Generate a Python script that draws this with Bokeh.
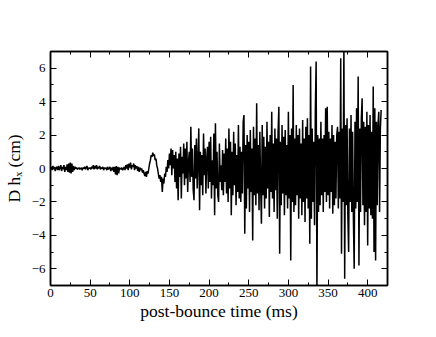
from bokeh.plotting import figure
from bokeh.models import LinearAxis, SingleIntervalTicker, Range1d, CustomJSTickFormatter
from bokeh.embed import file_html
from bokeh.resources import INLINE

h = [
    0.0, 0.1, -0.1, 0.15, -0.05, 0.1, -0.15, 0.05, 0.1, -0.1,
    0.15, -0.1, 0.05, 0.2, -0.15, 0.1, -0.05, 0.2, -0.2, 0.1,
    -0.1, 0.25, -0.2, 0.3, -0.25, 0.35, -0.3, 0.3, -0.2, 0.15,
    -0.1, 0.1, 0.0, 0.05, -0.05, 0.0, 0.05, -0.05, 0.0, 0.05,
    -0.1, 0.05, 0.0, 0.1, -0.05, 0.05, 0.15, -0.1, 0.05, 0.0,
    0.05, -0.05, 0.1, 0.0, 0.2, -0.05, 0.15, 0.0, 0.2, -0.05,
    0.1, 0.0, 0.15, -0.05, 0.05, 0.0, 0.1, -0.1, 0.05, 0.0,
    0.05, -0.1, 0.1, -0.05, 0.0, 0.1, -0.15, 0.05, -0.1, 0.1,
    -0.2, 0.1, -0.35, 0.15, -0.4, 0.1, -0.3, 0.05, 0.0, -0.05,
    0.05, -0.1, 0.0, 0.1, -0.1, 0.2, 0.0, 0.25, -0.1, 0.3,
    0.05, 0.35, -0.05, 0.2, 0.1, 0.3, -0.1, 0.2, 0.0, 0.15,
    -0.15, 0.1, -0.2, 0.05, -0.1, 0.0, -0.25, -0.1, -0.3, -0.45,
    -0.2, -0.5, -0.15, -0.3, 0.0, 0.3, 0.5, 0.8, 0.7, 0.95,
    0.75, 0.85, 0.5, 0.6, 0.2, 0.0, -0.3, -0.6, -0.4, -0.8,
    -0.5, -1.4, -0.6, -0.9, -0.3, -0.5, 0.1, -0.2, 0.5, 0.0,
    0.9, 0.2, 1.2, -0.4, 1.1, 0.0, 0.8, -0.8, 1.0, -1.2,
    0.6, -1.9, 0.9, -0.5, 1.3, -1.8, 0.7, -0.3, 1.5, -1.0,
    1.2, -0.6, 1.6, -1.4, 0.4, 1.0, -0.8, 2.5, -0.5, 1.2,
    -1.3, -1.9, 1.4, -0.6, 1.8, -1.2, 0.5, 2.4, -2.5, 1.0,
    -1.0, 0.8, -1.6, 2.1, -0.4, 1.2, -1.5, 0.6, 1.3, -1.2,
    1.6, -0.8, 1.9, -1.8, 0.5, -1.0, 2.1, -2.8, 2.7, -1.2,
    1.0, -1.6, -2.0, 1.5, -0.8, 0.2, -1.3, 1.1, -1.6, 0.9,
    -0.8, 1.8, -1.5, 1.2, -2.0, 2.4, -1.2, 1.6, -2.8, 1.0,
    -1.6, 2.2, -1.0, 1.5, -2.2, 0.8, -1.4, 2.6, -1.8, 1.3,
    -2.0, 1.0, -1.5, 2.8, 3.2, -3.9, 1.4, -2.4, 2.0, -1.2,
    1.6, -2.6, 2.3, -1.4, 1.2, -4.3, 2.5, -1.6, 1.8, -2.2,
    3.9, -1.5, 1.4, -2.5, 2.2, -1.0, -3.3, 2.6, -1.6, 1.9,
    -2.4, 1.3, -1.8, 2.8, -1.2, 1.6, -2.9, 2.0, -1.4, 3.4,
    -1.8, 1.5, -2.6, 2.4, -1.3, 1.8, -3.0, 2.2, 3.7, -5.1,
    1.6, -2.2, 2.6, -1.5, 1.9, -2.8, 2.3, -1.6, 1.4, -2.4,
    3.4, -1.8, 2.0, -5.5, 2.4, -2.0, 5.0, -2.6, 1.8, -2.2,
    2.6, -1.6, 2.0, -3.0, 2.4, -1.8, 1.5, -2.8, 2.9, -2.0,
    1.8, -3.2, 2.5, -1.8, 3.0, -2.4, 2.0, -4.5, 6.1, -3.0,
    2.4, -2.0, 1.6, -3.4, 3.5, 6.4, -7.5, 2.0, -2.6, 1.8,
    -2.2, 2.8, -1.6, 1.8, -2.6, 2.0, -1.4, 3.6, -2.0, 3.7,
    -1.6, 2.2, -2.4, 1.8, -1.4, 2.6, -2.7, 2.0, -2.2, 1.6,
    -1.8, 2.0, 2.5, -2.4, 2.2, -1.8, 6.6, -5.1, 2.4, -2.0,
    7.5, -6.6, 2.6, -2.2, 3.0, -2.8, -5.0, 2.4, -2.0, 3.2,
    -2.6, 2.2, -3.0, -6.0, 2.8, -2.4, 3.6, -2.0, 5.5, -5.8,
    2.4, -2.6, 3.0, 4.2, -2.2, 2.8, -3.4, 2.5, -2.6, 3.4,
    -4.6, 2.6, -2.4, 3.2, -2.8, 2.2, -3.0, 4.9, -5.0, 3.6,
    -5.5, 2.8, -2.2, 2.6, 3.4, -2.6, 2.4, 3.5,
]
dt_ms = 1.0
t = [i * dt_ms for i in range(len(h))]

x_label = "post-bounce time (ms)"
y_label = "D h\u2093 (cm)"

FONT = "Liberation Serif"

p = figure(width=436, height=337, output_backend="svg", toolbar_location=None,
           x_range=Range1d(0, 425), y_range=Range1d(-7, 7),
           min_border_left=50, min_border_right=49, min_border_top=51, min_border_bottom=52)
p.xaxis.visible = False
p.yaxis.visible = False
p.grid.visible = False
p.outline_line_color = "black"
p.outline_line_width = 1.5
p.background_fill_color = "white"
p.border_fill_color = "white"

p.line(t, h, line_color="black", line_width=1.5)


def style(ax, labels=True):
    ax.axis_line_color = "black"
    ax.axis_line_width = 1.5
    ax.major_tick_in = 6
    ax.major_tick_out = 0
    ax.minor_tick_in = 3
    ax.minor_tick_out = 0
    ax.major_tick_line_color = "black"
    ax.minor_tick_line_color = "black"
    ax.major_tick_line_width = 1
    ax.minor_tick_line_width = 1
    ax.major_label_text_font = FONT
    ax.major_label_text_font_size = "13px"
    ax.major_label_text_color = "black"
    ax.axis_label_text_font = FONT
    ax.axis_label_text_font_size = "17.5px"
    ax.axis_label_text_font_style = "normal"
    ax.axis_label_text_color = "black"
    if not labels:
        ax.formatter = CustomJSTickFormatter(code="return ''")
        ax.major_label_standoff = 0


xb = LinearAxis(ticker=SingleIntervalTicker(interval=50, num_minor_ticks=2), axis_label=x_label)
style(xb)
xb.major_label_standoff = 3
xb.axis_label_standoff = 1
p.add_layout(xb, "below")

yl = LinearAxis(ticker=SingleIntervalTicker(interval=2, num_minor_ticks=2), axis_label=y_label)
style(yl)
yl.major_label_standoff = 5
yl.axis_label_standoff = 5
p.add_layout(yl, "left")

xt = LinearAxis(ticker=SingleIntervalTicker(interval=50, num_minor_ticks=2))
style(xt, labels=False)
p.add_layout(xt, "above")

yr = LinearAxis(ticker=SingleIntervalTicker(interval=2, num_minor_ticks=2))
style(yr, labels=False)
p.add_layout(yr, "right")

open("out.html", "w").write(file_html(p, INLINE))
